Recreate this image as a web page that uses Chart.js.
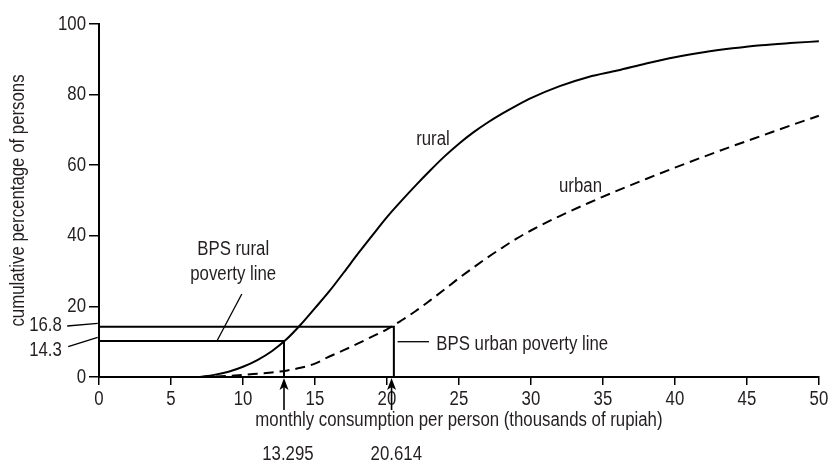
<!DOCTYPE html>
<html><head><meta charset="utf-8">
<script src="https://cdn.jsdelivr.net/npm/chart.js@4"></script>
<style>html,body{margin:0;padding:0;background:#fff}#wrap{width:832px;height:461px}</style>
</head><body><div id="wrap"><canvas id="c" width="832" height="461"></canvas></div>
<script>
// ---- data ----
const xRural = [7,8,9,10,11,12,13,14,15,16,17,18,19,20,21,22,23,24,25,26,27,28,29,30,32,34,36,38,40,42,44,46,48,50];
const rural  = [0,0.6,1.5,2.9,4.8,7.3,10.6,14.8,19.5,24.3,29.6,35.0,40.2,45.3,49.9,54.3,58.5,62.5,66.1,69.3,72.1,74.6,76.9,79.0,82.4,85.0,86.8,88.8,90.6,92.0,93.1,94.0,94.6,95.1];
const xUrban = [7,8,9,10,11,12,13,14,15,16,17,18,19,20,21,22,23,24,25,26,27,28,29,30,32,34,36,38,40,42,44,46,48,50];
const urban  = [0,0.1,0.3,0.6,0.9,1.3,1.8,2.6,3.8,5.8,7.6,9.5,11.5,13.5,16.0,18.7,21.7,24.8,28.0,31.0,33.9,36.6,39.2,41.5,45.6,49.3,52.8,56.1,59.3,62.4,65.4,68.3,71.2,74.0];
const xTicks = [0,5,10,15,20,25,30,35,40,45,50];
const yTicks = [0,20,40,60,80,100];
// poverty lines as drawn: [rural, urban]
const povertyX = [12.85, 20.48];
const povertyY = [10.2, 14.2];
const povertyXLabels = ['13.295', '20.614'];
const povertyYLabels = ['14.3', '16.8'];
const seriesNames = ['rural', 'urban'];

// condensed look: all canvas text is drawn narrower (like a condensed face)
const CONDENSE = 0.84;
const _fillText = CanvasRenderingContext2D.prototype.fillText;
CanvasRenderingContext2D.prototype.fillText = function (t, x, y, mw) {
  const w = this.measureText(String(t)).width * CONDENSE;
  const m = (mw === undefined || mw === null) ? w : Math.min(mw, w);
  return _fillText.call(this, t, x, y, m);
};

const FONT = '"Liberation Sans", Arimo, Arial, sans-serif';
const INK = '#231f20';
Chart.defaults.font.family = FONT;
Chart.defaults.color = INK;

const pts = (xs, ys) => xs.map((x, i) => ({x, y: ys[i]}));
const box = i => [{x: 0, y: povertyY[i]}, {x: povertyX[i], y: povertyY[i]}, {x: povertyX[i], y: 0}];

// annotation placements (data units)
const notes = [
  {t: seriesNames[0], x: 22.03, y: 65.7, a: 'left'},
  {t: seriesNames[1], x: 31.95, y: 52.5, a: 'left'},
  {t: 'BPS rural', x: 9.32, y: 34.6, a: 'center'},
  {t: 'poverty line', x: 9.32, y: 27.5, a: 'center'},
  {t: 'BPS urban poverty line', x: 23.43, y: 7.65, a: 'left'},
  {t: povertyYLabels[1], x: -2.58, y: 12.9, a: 'right'},
  {t: povertyYLabels[0], x: -2.58, y: 5.95, a: 'right'},
  {t: povertyXLabels[0], x: 13.12, y: -23.5, a: 'center'},
  {t: povertyXLabels[1], x: 20.65, y: -23.5, a: 'center'}
];
const leaders = [
  [[9.92, 23.5], [8.19, 10.2]],
  [[20.74, 10.0], [22.92, 10.0]],
  [[-2.21, 14.45], [-0.09, 15.2]],
  [[-2.14, 8.58], [-0.09, 11.25]]
];
const arrows = [{x: 12.85, y0: -9.35, y1: -0.28}, {x: 20.32, y0: -9.35, y1: -0.28}];

const annot = {
  id: 'annot',
  afterDraw(chart) {
    const {ctx, scales: {x, y}} = chart;
    const X = v => x.getPixelForValue(v), Y = v => y.getPixelForValue(v);
    ctx.save();
    ctx.strokeStyle = '#000';
    ctx.lineWidth = 1.3;
    leaders.forEach(l => {
      ctx.beginPath();
      ctx.moveTo(X(l[0][0]), Y(l[0][1]));
      ctx.lineTo(X(l[1][0]), Y(l[1][1]));
      ctx.stroke();
    });
    ctx.lineWidth = 1.6;
    ctx.fillStyle = '#000';
    arrows.forEach(a => {
      const px = X(a.x), yb = Y(a.y0), yt = Y(a.y1);
      ctx.beginPath(); ctx.moveTo(px, yb); ctx.lineTo(px, yt + 6); ctx.stroke();
      ctx.beginPath();
      ctx.moveTo(px, yt);
      ctx.lineTo(px + 4.5, yt + 12);
      ctx.lineTo(px, yt + 9);
      ctx.lineTo(px - 4.5, yt + 12);
      ctx.closePath(); ctx.fill();
    });
    ctx.fillStyle = INK;
    ctx.font = '20px ' + FONT;
    ctx.textBaseline = 'alphabetic';
    notes.forEach(n => {
      ctx.textAlign = n.a;
      ctx.fillText(n.t, X(n.x), Y(n.y));
    });
    ctx.restore();
  }
};

const lineDs = (label, data, extra) => Object.assign({
  label, data, showLine: true, borderColor: '#000', backgroundColor: '#000',
  borderWidth: 2, pointRadius: 0, pointHoverRadius: 0, clip: false, fill: false
}, extra);

new Chart(document.getElementById('c'), {
  type: 'scatter',
  data: {
    datasets: [
      lineDs(seriesNames[0], pts(xRural, rural), {cubicInterpolationMode: 'monotone'}),
      lineDs(seriesNames[1], pts(xUrban, urban), {cubicInterpolationMode: 'monotone', borderDash: [10, 6]}),
      lineDs('rural poverty line', box(0), {tension: 0}),
      lineDs('urban poverty line', box(1), {tension: 0})
    ]
  },
  options: {
    responsive: false,
    devicePixelRatio: 1,
    animation: false,
    events: [],
    layout: {padding: {left: 0, right: 9, top: 24, bottom: 0}},
    plugins: {legend: {display: false}, tooltip: {enabled: false}},
    scales: {
      x: {
        type: 'linear', min: 0, max: 50,
        afterBuildTicks: s => { s.ticks = xTicks.map(v => ({value: v})); },
        afterFit: s => { s.height = 84; },
        ticks: {font: {size: 20}, color: INK, padding: 2, maxRotation: 0, autoSkip: false},
        grid: {drawOnChartArea: false, drawTicks: true, tickLength: 8, color: '#000', lineWidth: 1.5},
        border: {display: true, color: '#000', width: 2},
        title: {display: true, text: 'monthly consumption per person (thousands of rupiah)', font: {size: 20}, color: INK, padding: {top: 0, bottom: 29}}
      },
      y: {
        type: 'linear', min: 0, max: 100,
        afterBuildTicks: s => { s.ticks = yTicks.map(v => ({value: v})); },
        afterFit: s => { s.width = 99; },
        ticks: {font: {size: 20}, color: INK, padding: 3, autoSkip: false},
        grid: {drawOnChartArea: false, drawTicks: true, tickLength: 10, color: '#000', lineWidth: 1.5},
        border: {display: true, color: '#000', width: 2},
        title: {display: true, text: 'cumulative percentage of persons', font: {size: 20}, color: INK, padding: {top: 6, bottom: 0}}
      }
    }
  },
  plugins: [annot]
});
</script></body></html>
